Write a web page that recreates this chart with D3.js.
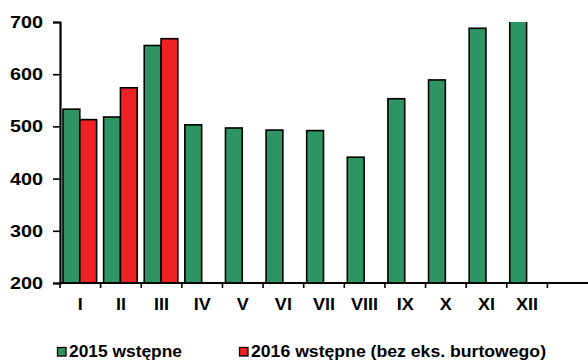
<!DOCTYPE html>
<html>
<head>
<meta charset="utf-8">
<script src="https://cdn.jsdelivr.net/npm/d3@7"></script>
<style>
  body { margin: 0; background: #fff; }
  text { font-family: "Liberation Sans", Arial, sans-serif; font-weight: bold; fill: #000; }
</style>
</head>
<body>
<script>
// month labels (13th slot is empty in the original)
const months = ['I', 'II', 'III', 'IV', 'V', 'VI', 'VII', 'VIII', 'IX', 'X', 'XI', 'XII', '']
const v2015 = [533, 518, 655, 503, 497, 493, 492, 441, 553, 589, 688, 712]
const v2016 = [513, 574, 668, null, null, null, null, null, null, null, null, null]
const seriesNames = ['2015 wstępne', '2016 wstępne (bez eks. burtowego)']
const colors = ['#2e9464', '#ee2224']
const yTicks = [200, 300, 400, 500, 600, 700]

const W = 588, H = 363
const m = { l: 60, r: 0, t: 22, b: 80 }

const svg = d3.select('body').append('svg')
    .attr('width', W)
    .attr('height', H)

const x = d3.scaleBand()
    .domain(months)
    .range([m.l, W - m.r])

const x1 = d3.scaleBand()
    .domain([0, 1])
    .range([3, x.bandwidth() - 4])

const y = d3.scaleLinear()
    .domain([200, 700])
    .range([H - m.b, m.t])

// a bit of horizontal stretch, the original font runs wider
const stretch = (sel, f) => sel.each(function () {
    const len = this.getComputedTextLength()
    if (len > 0) d3.select(this).attr('textLength', len * f).attr('lengthAdjust', 'spacingAndGlyphs')
})

svg.append('clipPath').attr('id', 'plot')
    .append('rect')
    .attr('x', m.l).attr('y', m.t)
    .attr('width', W - m.l).attr('height', y(200) - m.t)

const rows = months.slice(0, 12).map((mo, i) => ({ mo, vals: [v2015[i], v2016[i]] }))

svg.append('g').attr('clip-path', 'url(#plot)')
    .selectAll('g')
    .data(rows)
    .enter().append('g')
    .attr('transform', d => 'translate(' + x(d.mo) + ',0)')
    .selectAll('rect')
    .data(d => d.vals.map((v, k) => ({ v, k })).filter(e => e.v != null))
    .enter().append('rect')
    .attr('x', e => x1(e.k))
    .attr('width', x1.bandwidth())
    .attr('y', e => y(e.v))
    .attr('height', e => y(200) - y(e.v))
    .attr('fill', e => colors[e.k])
    .attr('stroke', '#000')
    .attr('stroke-width', 1.6)

// y axis
const yAxis = svg.append('g')
    .attr('transform', 'translate(' + m.l + ',0)')
    .call(d3.axisLeft(y).tickValues(yTicks).tickSize(7).tickPadding(10))
yAxis.select('.domain').attr('stroke-width', 2.2)
yAxis.selectAll('.tick line').attr('stroke-width', 1.6)
yAxis.selectAll('text')
    .style('font-size', '17px')
    .attr('fill', '#000')
    .attr('textLength', 33).attr('lengthAdjust', 'spacingAndGlyphs')

// x axis: ticks at band boundaries
const xg = svg.append('g')
    .attr('transform', 'translate(0,' + y(200) + ')')
xg.append('line')
    .attr('x1', m.l).attr('x2', W)
    .attr('stroke', '#000').attr('stroke-width', 2.2)
xg.selectAll('line.tk')
    .data(months)
    .enter().append('line')
    .attr('class', 'tk')
    .attr('x1', d => x(d)).attr('x2', d => x(d))
    .attr('y1', 0).attr('y2', 5)
    .attr('stroke', '#000').attr('stroke-width', 1.6)
xg.selectAll('text')
    .data(months)
    .enter().append('text')
    .attr('x', d => x(d) + x.bandwidth() / 2)
    .attr('y', 27)
    .attr('text-anchor', 'middle')
    .style('font-size', '17px')
    .text(d => d)
    .call(stretch, 1.06)

// legend
const legX = [57, 239]
const legW = [113, 295]
const leg = svg.selectAll('g.leg')
    .data(seriesNames)
    .enter().append('g')
    .attr('class', 'leg')
    .attr('transform', (d, i) => 'translate(' + legX[i] + ',347)')
leg.append('rect')
    .attr('x', 0.5).attr('y', 0.5)
    .attr('width', 8.5).attr('height', 8.5)
    .attr('fill', (d, i) => colors[i])
    .attr('stroke', '#000').attr('stroke-width', 1.3)
leg.append('text')
    .attr('x', 12)
    .attr('y', 10)
    .style('font-size', '16px')
    .attr('textLength', (d, i) => legW[i])
    .attr('lengthAdjust', 'spacingAndGlyphs')
    .text(d => d)
</script>
</body>
</html>
